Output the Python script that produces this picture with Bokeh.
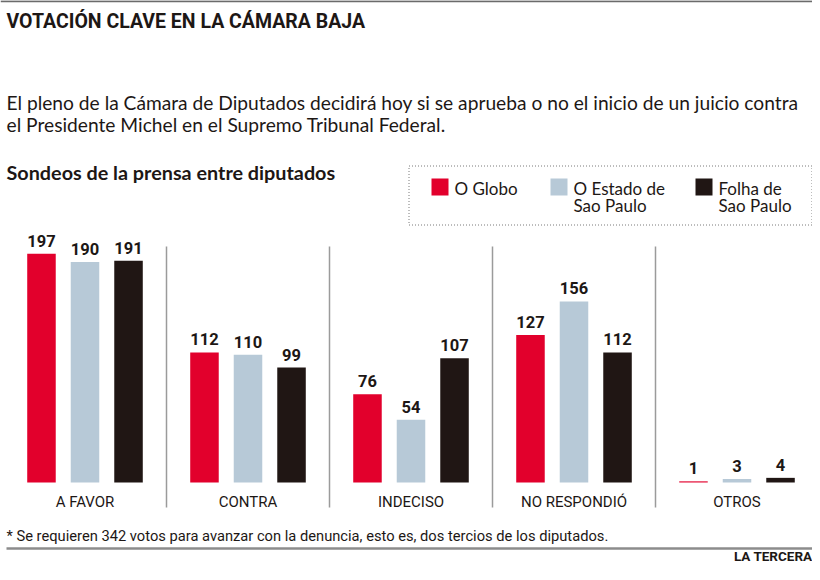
from bokeh.plotting import figure
from bokeh.models import FactorRange, Range1d, ColumnDataSource, LabelSet, Label
from bokeh.transform import dodge
from bokeh.core.properties import value
from bokeh.embed import file_html
from bokeh.resources import INLINE

# ---------------- data ----------------
categories = ["A FAVOR", "CONTRA", "INDECISO", "NO RESPONDIÓ", "OTROS"]
o_globo = [197, 112, 76, 127, 1]
o_estado = [190, 110, 54, 156, 3]
folha = [191, 99, 107, 112, 4]
series_lines = [["O Globo"], ["O Estado de", "Sao Paulo"], ["Folha de", "Sao Paulo"]]
colors = ["#e2002c", "#b7c9d7", "#201614"]

title_text = "VOTACIÓN CLAVE EN LA CÁMARA BAJA"
intro_lines = [
    "El pleno de la Cámara de Diputados decidirá hoy si se aprueba o no el inicio de un juicio contra",
    "el Presidente Michel en el Supremo Tribunal Federal.",
]
section_text = "Sondeos de la prensa entre diputados"
note_text = "* Se requieren 342 votos para avanzar con la denuncia, esto es, dos tercios de los diputados."
source_text = "LA TERCERA"

# ---------------- geometry ----------------
W, H = 812, 564
PXU = 1.161      # pixels per vote
BASE = 482       # pixel row of zero
GROUP = 163      # pixels per category
FIRST_CENTER = 84.5
PAD = (W / GROUP - len(categories)) / 2.0   # padding applied on each side
START = -PAD                                 # synthetic coordinate at pixel 0
SHIFT = START + FIRST_CENTER / GROUP - 0.5   # put groups where they belong
TXT = "#1d1715"
DROP = 0.3   # baseline correction (fraction of font size)


def X(px):
    return START + px / GROUP


def Y(py):
    return (BASE - py) / PXU


p = figure(width=W, height=H, output_backend="svg", toolbar_location=None,
           x_range=FactorRange(factors=categories, range_padding=PAD,
                               range_padding_units="absolute"),
           y_range=Range1d(Y(H), Y(0)),
           x_axis_location=None, y_axis_location=None, min_border=0,
           outline_line_color=None, background_fill_color="white",
           border_fill_color="white")
p.grid.visible = False

# ---------------- bars ----------------
offsets = [-0.267, 0.0, 0.267]
for vals, col, off in zip([o_globo, o_estado, folha], colors, offsets):
    src = ColumnDataSource(dict(cat=categories, val=vals, lbl=[str(v) for v in vals]))
    p.vbar(x=dodge("cat", off + SHIFT, range=p.x_range), top="val", bottom=0, width=0.175,
           fill_color=col, line_color=None, source=src)
    p.add_layout(LabelSet(x=dodge("cat", off + SHIFT, range=p.x_range), y="val", text="lbl",
                          y_offset=7, text_align="center", text_baseline="alphabetic",
                          text_font=value("Roboto"), text_font_style="bold",
                          text_font_size="16.5px", text_color=TXT, source=src))

# separators between categories
sep_src = ColumnDataSource(dict(cat=categories[:-1]))
p.segment(x0=dodge("cat", 0.5 + SHIFT, range=p.x_range),
          x1=dodge("cat", 0.5 + SHIFT, range=p.x_range),
          y0=Y(246), y1=Y(507), line_color="#9b9b9b", line_width=1.5, source=sep_src)

# category labels
cat_src = ColumnDataSource(dict(cat=categories))
p.text(x=dodge("cat", SHIFT, range=p.x_range), y=Y(506 - DROP * 15), text="cat",
       source=cat_src, text_align="center", text_baseline="alphabetic",
       text_font=value("Roboto"), text_font_size="15px", text_color=TXT)

# ---------------- rules ----------------
p.segment(x0=[X(0)], x1=[X(W)], y0=[Y(0.8)], y1=[Y(0.8)], line_color="#6b6b6b", line_width=2)
p.segment(x0=[X(6)], x1=[X(W)], y0=[Y(548)], y1=[Y(548)], line_color="#8c8c8c", line_width=2.5)


def label(txt, px, py, size, font="Lato", style="normal", align="left"):
    p.add_layout(Label(x=X(px), y=Y(py - DROP * size), text=txt, text_font=font,
                       text_font_size=f"{size}px", text_font_style=style, text_color=TXT,
                       text_align=align, text_baseline="alphabetic"))


label(title_text, 6, 27, 19.5, font="Roboto", style="bold")
label(intro_lines[0], 6, 108, 19.2)
label(intro_lines[1], 6, 130, 19.2)
label(section_text, 6, 177, 19.8, style="bold")
label(note_text, 6, 540, 14.7, font="Roboto")
label(source_text, 812, 560, 13.5, font="Roboto", style="bold", align="right")

# ---------------- legend ----------------
p.quad(left=[X(408.5)], right=[X(811.5)], top=[Y(165.5)], bottom=[Y(224.5)],
       fill_color=None, line_color="#7a7a7a", line_width=1, line_dash="1 2")
sw_x = [431, 550, 695]
p.quad(left=[X(x) for x in sw_x], right=[X(x + 17) for x in sw_x],
       top=[Y(178)] * 3, bottom=[Y(195)] * 3, fill_color=colors, line_color=None)
for x, lines in zip(sw_x, series_lines):
    for k, ln in enumerate(lines):
        label(ln, x + 23, 193 + 17 * k, 17)

open("out.html", "w").write(file_html(p, INLINE))
